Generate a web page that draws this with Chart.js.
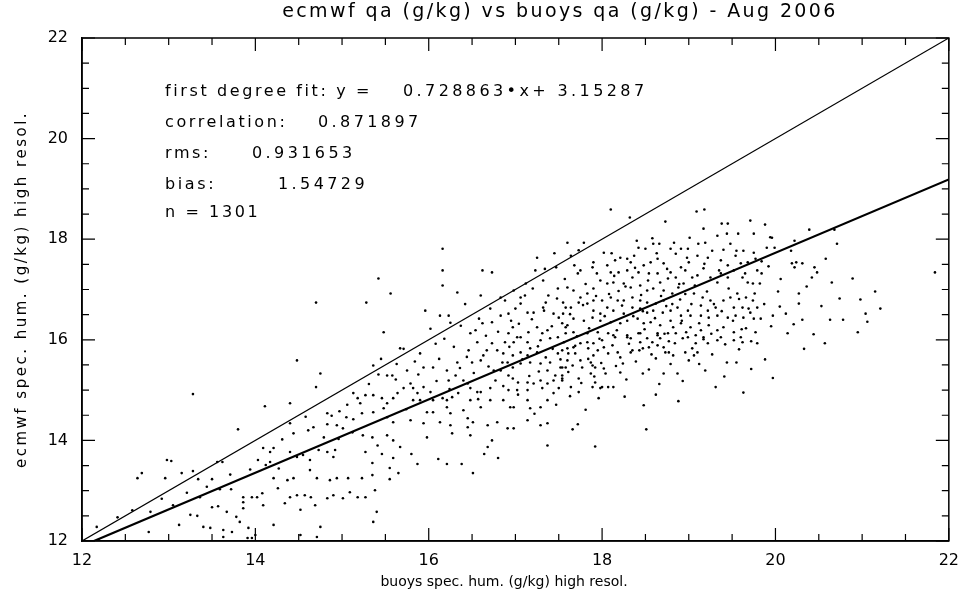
<!DOCTYPE html>
<html>
<head>
<meta charset="utf-8">
<script src="https://cdn.jsdelivr.net/npm/chart.js@4.4.1/dist/chart.umd.min.js"></script>
<style>
  html, body { margin: 0; padding: 0; background: #fff; }
  #wrap { width: 969px; height: 596px; }
</style>
</head>
<body>
<div id="wrap"><canvas id="chart" width="969" height="596"></canvas></div>
<script>
const titleText = "ecmwf qa (g/kg) vs buoys qa (g/kg) - Aug 2006";
const xTitle = "buoys spec. hum. (g/kg) high resol.";
const yTitle = "ecmwf spec. hum. (g/kg) high resol.";
const axisMin = 12;
const axisMax = 22;
const tickLabels = [12, 14, 16, 18, 20, 22];
const fitSlope = 0.728863;
const fitIntercept = 3.15287;
const statNames = ["first degree fit: y =", "correlation:", "rms:", "bias:", "n = 1301"];
const statValues = ["0.728863\u2022x+ 3.15287", "0.871897", "0.931653", "1.54729", ""];

// buoys qa (x) vs ecmwf qa (y)
const samples = [
  // low end, 12-15.5 g/kg
  [13.28,14.92],[14.70,15.06],[14.11,14.68],[14.40,14.74],[13.80,14.22],[13.03,13.59],[12.69,13.35],[12.64,13.25],
  [12.96,13.25],[13.15,13.35],[13.28,13.39],[13.34,13.23],[13.50,13.23],[12.79,12.58],[13.25,12.52],[13.33,12.50],
  [13.50,12.67],[13.57,12.69],[13.67,12.58],[13.12,12.32],[12.77,12.18],[13.40,12.28],[13.48,12.26],[13.63,12.22],
  [13.73,12.18],[13.63,12.08],[13.91,12.06],[13.96,12.06],[14.00,12.12],[13.82,12.38],[13.92,12.26],[13.78,12.48],
  [13.86,12.87],[13.86,12.77],[13.86,12.65],[13.96,12.87],[14.02,12.87],[14.08,12.95],[14.09,12.71],[14.21,12.32],
  [14.26,13.05],[14.34,12.75],[14.40,12.87],[14.48,12.91],[14.52,12.62],[14.57,12.91],[14.64,12.87],[14.69,12.71],
  [14.75,12.28],[14.71,12.08],[14.52,12.12],[14.83,12.85],[14.90,12.91],[15.01,12.85],[15.18,12.87],[15.27,12.87],
  [15.38,13.01],[15.36,12.38],[15.40,12.58],[15.09,12.97],[14.86,13.21],[14.94,13.25],[15.07,13.25],[15.23,13.25],
  [15.35,13.31],[14.71,13.25],[14.63,13.41],[14.44,13.25],[14.37,13.21],[14.21,13.25],[14.03,13.61],[14.17,13.57],
  [14.21,13.85],[14.17,13.77],[14.40,13.77],[14.48,13.67],[14.55,13.71],[14.63,13.61],[14.73,13.81],[14.83,13.77],
  [14.90,13.67],[14.92,13.81],[14.44,14.14],[14.61,14.20],[14.67,14.26],[14.83,14.32],[14.94,14.30],[15.01,14.24],
  [15.05,14.46],[15.13,14.42],[15.24,14.10],[15.35,14.06],[15.27,13.77],[15.35,13.55],[15.41,13.90],[15.21,14.74],
  [15.36,14.90],[15.27,14.90],[15.13,14.94],[15.36,14.56],[15.23,14.54],[14.83,14.54],[14.40,14.34],[14.09,13.85],
  [13.56,13.57],[13.62,13.57],[13.59,13.03],[13.36,12.87],[13.72,13.03],[12.98,13.61],[12.17,12.28],[12.19,12.02],
  [15.42,17.22],[14.70,16.74],[15.28,16.74],[14.48,15.59],[14.75,15.33],[15.36,15.49],
  [15.31,15.12],[15.42,15.31],[15.18,14.84],[15.06,14.71],[14.97,14.58],[15.45,15.62],[14.88,14.49],[14.79,14.06],
  [15.12,14.16],[14.58,14.47],[14.31,14.02],[14.12,13.51],[13.94,13.42],[13.71,13.32],[13.44,13.08],[13.21,12.96],
  [12.92,12.84],[12.58,12.61],[12.41,12.47],[13.05,12.71],[14.27,13.44],[14.96,14.03],
  // 15.5-17.6 g/kg
  [16.16,17.81],[16.16,17.38],[16.16,17.08],[15.56,16.92],[17.25,17.63],[16.62,17.38],[16.73,17.34],[17.47,17.44],
  [17.23,17.38],[17.32,17.18],[17.49,17.02],[17.38,16.88],[17.20,17.02],[17.06,16.84],[16.98,16.98],[16.83,16.84],
  [16.13,16.48],[16.23,16.48],[15.48,16.15],[15.67,15.83],[15.90,15.73],[15.75,15.39],[15.52,15.29],[15.58,15.29],
  [15.94,15.45],[16.05,15.45],[16.21,15.39],[16.33,15.55],[16.31,15.29],[16.23,15.19],[16.46,15.79],[16.50,15.55],
  [16.60,15.59],[16.63,15.69],[16.67,15.79],[16.56,15.95],[16.48,16.13],[16.54,16.19],[16.62,16.33],[16.73,16.35],
  [16.83,16.48],[16.92,16.52],[17.00,16.62],[17.06,16.72],[17.14,16.54],[17.21,16.54],[17.32,16.64],[17.35,16.74],
  [17.44,16.52],[17.50,16.44],[17.58,16.64],[17.54,16.33],[17.60,16.29],[16.97,16.25],[17.02,16.05],[17.06,16.05],
  [16.92,16.13],[16.88,15.95],[16.98,15.95],[17.14,15.95],[17.15,16.15],[17.25,16.25],[17.31,16.13],[17.37,16.19],
  [17.40,16.03],[17.49,16.05],[17.58,16.13],[17.29,15.99],[17.17,15.83],[17.25,15.75],[17.14,15.69],[17.06,15.75],
  [16.97,15.69],[16.86,15.73],[16.79,15.79],[16.73,15.93],[16.85,15.55],[16.91,15.55],[16.97,15.45],[17.06,15.53],
  [17.17,15.55],[17.29,15.53],[17.40,15.55],[17.49,15.73],[17.52,15.45],[17.58,15.45],[17.37,15.39],[17.46,15.29],
  [17.54,15.23],[17.44,15.19],[17.37,15.13],[17.29,15.19],[17.21,15.13],[17.14,15.15],[17.03,15.15],[16.97,15.23],
  [16.92,15.29],[16.83,15.39],[16.75,15.39],[16.77,15.19],[16.71,15.04],[16.60,14.96],[16.56,14.96],[16.48,15.04],
  [16.45,15.13],[16.40,15.19],[16.34,14.94],[16.27,14.86],[16.21,14.80],[16.16,14.84],[16.05,14.80],[16.02,14.96],
  [15.94,15.06],[15.82,15.04],[15.79,15.13],[15.71,15.04],[15.64,14.94],[15.59,14.84],[15.52,14.74],[15.46,14.84],
  [15.48,14.64],[15.82,14.80],[15.90,14.80],[15.98,14.56],[16.05,14.56],[16.21,14.66],[16.25,14.54],[16.40,14.60],
  [16.48,14.80],[16.60,14.66],[16.71,14.80],[16.86,14.80],[16.94,14.66],[16.98,14.66],[17.14,14.80],[17.17,14.64],
  [17.29,14.66],[17.37,14.80],[17.44,14.94],[17.50,15.04],[17.31,15.04],[17.14,15.00],[17.02,15.00],[16.92,15.00],
  [15.52,14.46],[15.59,14.36],[15.79,14.40],[15.94,14.34],[16.13,14.36],[16.25,14.30],[16.45,14.44],[16.51,14.36],
  [16.68,14.30],[16.79,14.36],[16.91,14.24],[16.98,14.24],[17.14,14.40],[17.29,14.30],[17.37,14.34],[16.45,14.26],
  [16.27,14.14],[16.48,14.10],[16.73,14.00],[15.52,14.10],[15.59,14.00],[15.67,13.87],[15.98,14.06],[16.68,13.87],
  [17.37,13.90],[15.46,13.73],[15.59,13.65],[15.80,13.73],[15.87,13.53],[16.11,13.63],[16.21,13.53],[16.38,13.53],
  [16.64,13.73],[16.80,13.65],[16.51,13.35],[15.55,13.45],[15.65,13.35],[15.55,13.23],
  [16.08,15.92],[16.18,16.02],[16.29,15.86],[16.37,16.28],[16.44,15.66],[16.58,16.42],[16.66,16.08],[16.71,16.62],
  [16.80,16.16],[16.88,16.78],[16.93,15.86],[16.42,16.71],[16.25,16.34],[16.12,15.62],[16.36,15.44],[16.52,15.34],
  [16.69,15.47],[16.86,15.08],[16.95,16.38],[16.60,16.88],[16.33,16.94],[16.02,16.22],[15.84,15.57],[15.71,15.82],
  [15.96,16.58],[15.63,15.52],[15.88,15.31],[16.09,15.18],[16.24,15.02],[16.57,14.82],[15.62,15.21],[15.74,14.62],
  [15.87,14.94],[17.04,16.32],[17.11,16.88],[17.19,16.41],[17.26,15.87],[17.33,16.58],[17.42,16.27],[17.48,16.82],
  [17.56,15.95],[17.63,16.51],[17.71,16.07],[17.78,16.69],[17.85,16.23],[17.93,16.87],[17.97,16.02],[17.08,15.61],
  [17.16,15.28],[17.27,15.37],[17.35,15.65],[17.43,15.82],[17.52,15.61],[17.61,15.36],[17.69,15.88],[17.76,15.14],
  [17.84,15.62],[17.91,15.27],[17.99,15.54],[17.12,17.12],[17.34,17.41],[17.57,17.21],[17.68,17.48],[17.81,17.11],
  [17.94,17.32],[17.45,17.72],[17.73,17.78],[17.03,14.91],[17.22,14.53],[17.47,14.71],[17.63,14.88],[17.81,14.61],
  [17.96,14.84],
  // 17.5-19.8 g/kg, densest part
  [18.10,18.59],[18.32,18.43],[18.73,18.35],[19.09,18.55],[19.18,18.59],[19.45,18.31],[17.60,17.93],[17.79,17.93],
  [18.02,17.73],[18.40,17.97],[18.59,17.91],[18.66,17.91],[18.42,17.83],[18.50,17.81],[18.79,17.81],[18.85,17.71],
  [18.91,17.81],[18.99,17.81],[19.01,18.03],[19.11,17.91],[19.19,17.93],[19.33,18.07],[19.44,18.11],[19.57,18.11],
  [19.75,18.11],[19.27,17.77],[19.40,17.79],[19.48,17.91],[19.54,17.67],[19.63,17.77],[19.75,17.73],[19.37,17.58],
  [19.45,17.48],[19.60,17.52],[19.68,17.54],[19.77,17.61],[19.10,17.67],[19.22,17.63],[19.00,17.54],[18.91,17.44],
  [18.79,17.34],[18.71,17.52],[18.64,17.61],[18.56,17.54],[18.48,17.48],[18.33,17.54],[18.29,17.61],[18.21,17.63],
  [18.15,17.58],[18.06,17.48],[17.90,17.54],[17.89,17.44],[17.75,17.38],[17.72,17.32],[17.64,17.67],[18.10,17.34],
  [18.19,17.34],[18.29,17.38],[18.35,17.24],[18.42,17.34],[18.54,17.32],[18.64,17.32],[18.67,17.14],[18.76,17.22],
  [18.85,17.24],[18.96,17.38],[19.04,17.24],[19.10,17.28],[19.17,17.42],[19.25,17.24],[19.33,17.14],[19.37,17.32],
  [19.45,17.24],[19.52,17.38],[19.62,17.24],[19.68,17.14],[19.74,17.12],[19.79,17.38],[17.98,17.18],[18.06,17.12],
  [18.13,17.14],[18.25,17.12],[18.33,17.04],[18.44,17.08],[18.52,16.98],[18.59,17.02],[18.71,16.98],[18.81,16.92],
  [18.88,17.04],[18.94,17.12],[17.90,17.02],[17.83,16.92],[17.75,16.84],[17.67,16.98],[17.60,17.04],[17.55,16.74],
  [17.64,16.64],[17.73,16.74],[17.83,16.72],[17.90,16.78],[18.00,16.78],[18.10,16.84],[18.18,16.78],[18.25,16.78],
  [18.35,16.84],[18.44,16.78],[18.52,16.74],[18.62,16.72],[18.71,16.78],[19.06,16.92],[19.16,16.84],[19.25,16.78],
  [19.14,16.68],[19.22,16.58],[19.31,16.64],[19.40,16.78],[19.48,16.84],[19.56,16.92],[19.66,16.84],[19.74,16.78],
  [19.52,16.64],[19.62,16.64],[19.71,16.54],[19.79,16.64],[17.90,16.58],[17.98,16.52],[18.06,16.64],[18.13,16.58],
  [18.25,16.52],[18.35,16.64],[18.44,16.62],[18.52,16.54],[18.59,16.58],[18.70,16.54],[18.79,16.58],[18.87,16.64],
  [18.99,16.58],[19.02,16.48],[18.91,16.48],[19.14,16.48],[19.23,16.44],[19.33,16.48],[19.45,16.44],[19.54,16.48],
  [19.63,16.44],[19.75,16.42],[17.55,16.52],[17.67,16.42],[17.79,16.38],[17.89,16.44],[17.98,16.38],[18.10,16.35],
  [18.21,16.33],[18.29,16.38],[18.41,16.42],[18.48,16.33],[18.56,16.35],[18.67,16.29],[18.79,16.38],[18.82,16.25],
  [18.91,16.33],[19.02,16.25],[19.14,16.19],[19.23,16.29],[19.33,16.19],[19.40,16.25],[19.52,16.15],[19.66,16.23],
  [19.77,16.15],[17.58,16.25],[17.67,16.15],[17.83,16.13],[17.95,16.15],[18.13,16.09],[18.29,16.05],[18.44,16.13],
  [18.64,16.09],[18.76,16.13],[18.99,16.05],[19.17,16.05],[19.37,16.05],[19.60,16.05],
  [18.07,16.13],[18.15,16.05],[18.29,16.09],[18.42,16.13],[18.52,16.03],[18.64,16.13],[18.85,16.13],[18.93,16.03],
  [18.97,16.15],[19.08,16.09],[19.08,15.93],[19.17,16.01],[19.33,15.99],[19.52,15.99],[19.62,15.95],[19.79,15.93],
  [19.22,15.93],[18.33,16.03],[18.44,15.95],[18.58,15.95],[18.67,16.03],[18.77,15.97],[18.12,15.89],[18.00,15.99],
  [17.90,15.93],[17.83,15.95],[17.75,15.93],[17.67,15.85],[17.60,15.83],[17.54,15.79],[17.61,15.73],[17.69,15.73],
  [17.84,15.83],[17.95,15.79],[18.02,15.85],[18.18,15.75],[18.35,15.79],[18.47,15.83],[18.54,15.85],[18.64,15.89],
  [18.71,15.85],[18.77,15.75],[18.82,15.69],[18.96,15.75],[19.04,15.83],[19.10,15.75],[19.06,15.69],[19.00,15.59],
  [18.73,15.75],[18.43,15.79],[18.33,15.75],[18.21,15.65],[18.07,15.73],[17.90,15.69],[17.87,15.55],[17.75,15.59],
  [17.60,15.59],[17.54,15.45],[17.66,15.49],[17.77,15.45],[17.89,15.49],[17.92,15.45],[18.02,15.43],[18.24,15.53],
  [18.47,15.33],[18.62,15.63],[18.71,15.33],[18.87,15.33],[19.19,15.39],[19.44,15.55],[19.55,15.55],[17.54,15.29],
  [17.54,15.19],[17.73,15.23],[17.87,15.33],[17.92,15.15],[18.21,15.35],[17.64,15.06],[17.73,14.96],[17.89,15.06],
  [17.98,15.04],[18.00,15.06],[18.07,15.06],[18.13,15.06],[18.48,14.70],[18.51,14.22],[17.66,14.22],[17.72,14.32],
  [17.92,13.88],
  [18.03,16.47],[18.08,16.91],[18.14,17.27],[18.17,16.19],[18.23,16.68],[18.27,17.06],[18.31,15.92],[18.36,16.47],
  [18.38,17.43],[18.45,16.89],[18.49,16.21],[18.53,17.18],[18.57,15.71],[18.61,16.43],[18.63,17.72],[18.68,16.87],
  [18.72,16.12],[18.75,17.41],[18.81,16.71],[18.84,15.93],[18.89,17.11],[18.92,16.38],[18.96,16.91],[18.98,17.63],
  [18.04,15.33],[18.16,15.48],[18.28,15.21],[18.39,15.57],[18.54,15.41],[18.66,15.12],[18.79,15.52],[18.93,15.18],
  [18.11,17.72],[18.37,17.67],[18.58,18.02],[18.83,17.93],[18.26,14.87],[18.62,14.91],[18.88,14.78],[18.19,16.97],
  [18.47,16.57],[18.74,16.67],[18.90,16.80],[19.03,16.71],[19.07,17.08],[19.12,16.33],[19.18,17.51],[19.21,16.96],
  [19.26,16.12],[19.29,16.71],[19.35,17.38],[19.38,16.57],[19.42,15.91],[19.46,17.02],[19.51,16.38],[19.55,17.77],
  [19.58,16.81],[19.61,16.21],[19.65,17.32],[19.69,16.62],[19.72,15.97],[19.76,16.92],[19.82,17.12],[19.87,16.71],
  [19.92,17.46],[19.95,16.27],[19.12,15.52],[19.27,15.71],[19.41,15.27],[19.58,15.81],[19.72,15.42],[19.88,15.61],
  [19.31,15.06],[19.63,14.95],[19.97,15.24],[19.17,18.21],[19.38,18.31],[19.71,18.37],[19.94,18.04],
  // upper end, beyond 19.8 g/kg
  [19.88,18.29],[19.96,18.03],[20.39,18.19],[20.68,18.19],[20.22,17.97],[19.90,17.83],[19.99,17.83],[20.71,17.91],
  [20.19,17.52],[20.24,17.54],[20.31,17.52],[20.22,17.44],[20.45,17.44],[20.48,17.34],[20.42,17.24],[20.65,17.14],
  [19.84,17.32],[19.84,17.56],[20.03,16.96],[21.15,16.96],[20.27,16.72],[20.98,16.80],[21.84,17.34],[20.05,16.66],
  [21.04,16.52],[19.97,16.48],[19.83,16.42],[20.31,16.40],[20.63,16.40],[20.78,16.40],[21.06,16.36],[20.14,16.13],
  [20.06,17.21],[20.12,16.52],[20.18,17.77],[20.27,16.92],[20.36,17.06],[20.53,16.67],[20.58,17.61],[20.74,16.82],
  [20.89,17.22],[20.95,16.15],[20.33,15.82],[20.57,15.93],[21.21,16.62],[20.21,16.31],[20.44,16.11]
];

const scatterPoints = samples.map(p => ({ x: p[0], y: p[1] }));
const identityLine = [{ x: axisMin, y: axisMin }, { x: axisMax, y: axisMax }];
const fitLine = [
  { x: axisMin, y: fitSlope * axisMin + fitIntercept },
  { x: axisMax, y: fitSlope * axisMax + fitIntercept }
];

const FONT = "DejaVu Sans";

// frame, inward ticks, titles and the stats block, IDL style
const idlFrame = {
  id: "idlFrame",
  afterDraw(chart) {
    const { ctx, chartArea: a, scales } = chart;
    ctx.save();
    ctx.strokeStyle = "#000";
    ctx.lineWidth = 1.5;
    ctx.strokeRect(a.left, a.top, a.right - a.left, a.bottom - a.top);

    ctx.lineWidth = 1.2;
    ctx.beginPath();
    for (let v = axisMin; v <= axisMax + 1e-9; v += 0.5) {
      const major = Math.abs(v % 2) < 1e-9;
      const len = major ? 13 : 7;
      const px = scales.x.getPixelForValue(v);
      const py = scales.y.getPixelForValue(v);
      ctx.moveTo(px, a.bottom); ctx.lineTo(px, a.bottom - len);
      ctx.moveTo(px, a.top); ctx.lineTo(px, a.top + len);
      ctx.moveTo(a.left, py); ctx.lineTo(a.left + len, py);
      ctx.moveTo(a.right, py); ctx.lineTo(a.right - len, py);
    }
    ctx.stroke();

    ctx.fillStyle = "#000";
    ctx.textBaseline = "middle";
    ctx.textAlign = "center";
    ctx.letterSpacing = "2.4px";
    ctx.font = "19px " + FONT;
    ctx.fillText(titleText, 560, 12);
    ctx.letterSpacing = "0px";
    ctx.font = "14px " + FONT;
    ctx.fillText(xTitle, 504, 582);

    ctx.save();
    ctx.translate(22, (a.top + a.bottom) / 2);
    ctx.rotate(-Math.PI / 2);
    ctx.letterSpacing = "2.5px";
    ctx.font = "15px " + FONT;
    ctx.fillText(yTitle, 0, 0);
    ctx.restore();

    ctx.textAlign = "left";
    ctx.font = "16px " + FONT;
    const rowY = [92, 123, 154, 185, 213];
    const valX = [403, 318, 252, 278, 0];
    statNames.forEach((s, i) => {
      ctx.letterSpacing = "2.6px";
      ctx.fillText(s, 165, rowY[i]);
      ctx.letterSpacing = "3.4px";
      if (statValues[i]) ctx.fillText(statValues[i], valX[i], rowY[i]);
    });
    ctx.restore();
  }
};

new Chart(document.getElementById("chart"), {
  type: "scatter",
  data: {
    datasets: [
      {
        data: scatterPoints,
        pointRadius: 1.3,
        pointHoverRadius: 1.3,
        pointBackgroundColor: "#000",
        pointBorderWidth: 0,
        order: 3
      },
      {
        type: "line",
        data: identityLine,
        borderColor: "#000",
        borderWidth: 1.2,
        pointRadius: 0,
        fill: false,
        order: 2
      },
      {
        type: "line",
        data: fitLine,
        borderColor: "#000",
        borderWidth: 2.2,
        pointRadius: 0,
        fill: false,
        order: 1
      }
    ]
  },
  options: {
    responsive: false,
    devicePixelRatio: 1,
    animation: false,
    events: [],
    layout: { padding: { top: 38, right: 19, left: 0, bottom: 0 } },
    plugins: {
      legend: { display: false },
      title: { display: false },
      tooltip: { enabled: false }
    },
    scales: {
      x: {
        type: "linear",
        min: axisMin,
        max: axisMax,
        afterBuildTicks: s => { s.ticks = tickLabels.map(v => ({ value: v })); },
        ticks: { color: "#000", font: { family: FONT, size: 16 }, padding: 10, maxRotation: 0 },
        grid: { display: false, drawTicks: false },
        border: { display: true, color: "#000", width: 1.5 },
        afterFit: s => { s.height = 55; }
      },
      y: {
        type: "linear",
        min: axisMin,
        max: axisMax,
        afterBuildTicks: s => { s.ticks = tickLabels.map(v => ({ value: v })); },
        ticks: { color: "#000", font: { family: FONT, size: 16 }, padding: 14 },
        grid: { display: false, drawTicks: false },
        border: { display: true, color: "#000", width: 1.5 },
        afterFit: s => { s.width = 82; }
      }
    }
  },
  plugins: [idlFrame]
});
</script>
</body>
</html>
